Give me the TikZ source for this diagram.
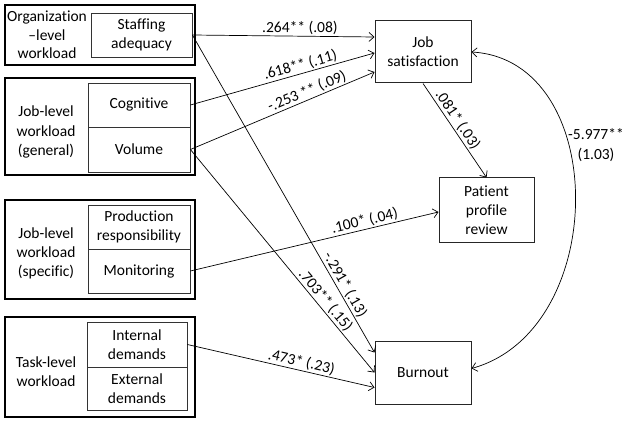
\documentclass[tikz,border=0pt]{standalone}
\usepackage{fontspec}
\setmainfont{Carlito}[Ligatures=NoCommon]
\usetikzlibrary{arrows.meta}
\begin{document}
\begin{tikzpicture}[x=1pt,y=-1pt,
  every node/.style={font=\fontsize{15.5}{19}\selectfont},
  outerbox/.style={draw=black,line width=1.6pt,minimum width=190pt,inner sep=0pt},
  cell/.style={draw=black!80,line width=0.8pt,align=center,inner sep=0pt},
  grp/.style={align=center,inner sep=0pt},
  varbox/.style={draw=black!85,line width=1pt,align=center,minimum width=96pt,inner sep=0pt},
  path/.style={line width=0.7pt,-{Straight Barb[length=5pt,width=9pt]}},
  lbl/.style={sloped,above,inner sep=1.2pt}]
\useasboundingbox (0,0) rectangle (629,422);
% outer group boxes
\node[outerbox,minimum height=60pt] (orgbox) at (100,35) {};
\node[outerbox,minimum height=97pt] (gbox) at (100,126.5) {};
\node[outerbox,minimum height=99pt] (sbox) at (100,249.5) {};
\node[outerbox,minimum height=100pt] (tbox) at (100,367) {};
% group labels
\node[grp,font=\fontsize{15.5}{18.5}\selectfont] (orglbl) at (47,35) {Organization\\–level\\workload};
\node[grp,font=\fontsize{15.5}{19.5}\selectfont] (glbl) at (46,132) {Job-level\\workload\\(general)};
\node[grp,font=\fontsize{15.5}{19}\selectfont] (slbl) at (46,253) {Job-level\\workload\\(specific)};
\node[grp] (tlbl) at (46,372) {Task-level\\workload};
% cells
\node[cell,minimum width=101pt,minimum height=44pt] (staff) at (141.5,35) {Staffing\\adequacy};
\node[cell,minimum width=102pt,minimum height=44pt] (cog) at (139,105) {Cognitive};
\node[cell,minimum width=102pt,minimum height=45pt] (vol) at (139,149.5) {Volume};
\node[cell,minimum width=102pt,minimum height=44pt] (prod) at (139,227) {Production\\responsibility};
\node[cell,minimum width=102pt,minimum height=44pt] (mon) at (139,271) {Monitoring};
\node[cell,minimum width=100pt,minimum height=45pt] (intd) at (137,344.5) {Internal\\demands};
\node[cell,minimum width=100pt,minimum height=43pt] (extd) at (137,388.5) {External\\demands};
% outcome boxes
\node[varbox,minimum height=62pt] (js) at (423,52) {Job\\satisfaction};
\node[varbox,minimum width=95pt,minimum height=64pt] (pp) at (486.5,210) {Patient\\profile\\review};
\node[varbox,minimum height=63pt] (bo) at (423,372.5) {Burnout};
% paths
\draw[path] (staff.east) -- node[lbl,pos=0.59] (l1) {.264** (.08)} ([yshift=15pt]js.west);
\draw[path] (cog.east) -- node[lbl,pos=0.61] (l2) {.618** (.11)} ([yshift=-1pt]js.west);
\draw[path] (vol.east) -- node[lbl,pos=0.65] (l3) {-.253 ** (.09)} ([yshift=-20pt]js.west);
\draw[path] (staff.east) -- node[lbl,pos=0.8] (l4) {-.291* (.13)} ([yshift=20pt]bo.west);
\draw[path] (vol.east) -- node[lbl,pos=0.7] (l5) {.703** (.15)} ([yshift=0pt]bo.west);
\draw[path] (mon.east) -- node[lbl,pos=0.71] (l6) {.100* (.04)} ([yshift=-2pt]pp.west);
\draw[path] (intd.east) -- node[lbl,pos=0.6] (l7) {.473* (.23)} ([yshift=-15pt]bo.west);
\draw[path] (js.south) -- node[lbl,pos=0.44] (l8) {.081* (.03)} (pp.north);
\draw[line width=0.7pt,{Straight Barb[length=5pt,width=9pt]}-{Straight Barb[length=5pt,width=9pt]}]
  (js.east) .. controls (610,60) and (610,330) .. ([yshift=4pt]bo.east);
\node[align=center,inner sep=0pt,font=\fontsize{15.5}{20}\selectfont] (cl) at (596,145) {-5.977**\\(1.03)};
\end{tikzpicture}
\end{document}
